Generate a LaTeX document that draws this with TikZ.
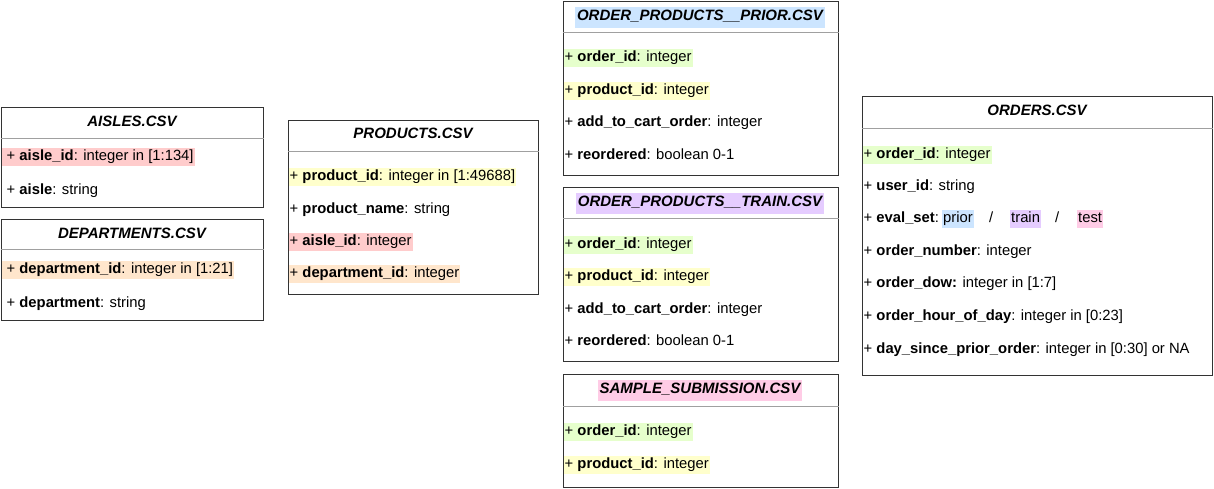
\documentclass[tikz,border=0pt]{standalone}
\usepackage{fontspec}
\setmainfont{Liberation Sans}
\definecolor{hgreen}{HTML}{E6FFCC}
\definecolor{hyellow}{HTML}{FFFFCC}
\definecolor{hred}{HTML}{FFCCCC}
\definecolor{horange}{HTML}{FFE6CC}
\definecolor{hblue}{HTML}{CCE5FF}
\definecolor{hpurple}{HTML}{E5CCFF}
\definecolor{hpink}{HTML}{FFCCE6}
\definecolor{bordergray}{HTML}{333333}
\definecolor{sepgray}{HTML}{A0A0A0}
\tikzset{
  tbl/.style={draw=bordergray, line width=1pt, fill=white, anchor=north west, inner sep=0pt},
  sepline/.style={draw=sepgray, line width=1pt},
  ttl/.style={font=\fontsize{15}{16}\selectfont\bfseries\itshape, inner xsep=2pt, inner ysep=3pt, text height=11pt, text depth=4pt, yshift=-2pt},
  rowtext/.style={font=\fontsize{14.8}{16}\selectfont, anchor=west, inner xsep=1pt, inner ysep=1.5pt, text height=11pt, text depth=4pt, yshift=-2pt},
}
\begin{document}
\begin{tikzpicture}[x=1pt,y=-1pt]
\useasboundingbox[fill=white] (0,0) rectangle (1214,488);

% AISLES
\node[tbl, minimum width=262pt, minimum height=100pt] (aisles) at (1,107) {};
\draw[sepline] (aisles.west |- 0,138) -- (aisles.east |- 0,138);
\node[ttl] (aislesT) at (132,121) {AISLES.CSV};
\node[rowtext, fill=hred] (a1) at (1.5,155) {\hspace{4pt}+ \textbf{aisle\_id}: integer in [1:134]};
\node[rowtext] (a2) at (1.5,189) {\hspace{4pt}+ \textbf{aisle}: string};

% DEPARTMENTS
\node[tbl, minimum width=262pt, minimum height=101pt] (depts) at (1,219) {};
\draw[sepline] (depts.west |- 0,249) -- (depts.east |- 0,249);
\node[ttl] (deptsT) at (132,233) {DEPARTMENTS.CSV};
\node[rowtext, fill=horange] (d1) at (1.5,268) {\hspace{4pt}+ \textbf{department\_id}: integer in [1:21]};
\node[rowtext] (d2) at (1.5,302) {\hspace{4pt}+ \textbf{department}: string};

% PRODUCTS
\node[tbl, minimum width=250pt, minimum height=174pt] (prod) at (288,120) {};
\draw[sepline] (prod.west |- 0,151) -- (prod.east |- 0,151);
\node[ttl] (prodT) at (413,133) {PRODUCTS.CSV};
\node[rowtext, fill=hyellow] (p1) at (288.5,175) {+ \textbf{product\_id}: integer in [1:49688]};
\node[rowtext] (p2) at (288.5,208) {+ \textbf{product\_name}: string};
\node[rowtext, fill=hred] (p3) at (288.5,240) {+ \textbf{aisle\_id}: integer};
\node[rowtext, fill=horange] (p4) at (288.5,272) {+ \textbf{department\_id}: integer};

% ORDER_PRODUCTS__PRIOR
\node[tbl, minimum width=275pt, minimum height=174pt] (prior) at (563,1) {};
\draw[sepline] (prior.west |- 0,32) -- (prior.east |- 0,32);
\node[ttl, fill=hblue] (priorT) at (700,15) {ORDER\_PRODUCTS\_\_PRIOR.CSV};
\node[rowtext, fill=hgreen] (r1) at (563.5,56) {+ \textbf{order\_id}: integer};
\node[rowtext, fill=hyellow] (r2) at (563.5,89) {+ \textbf{product\_id}: integer};
\node[rowtext] (r3) at (563.5,121) {+ \textbf{add\_to\_cart\_order}: integer};
\node[rowtext] (r4) at (563.5,154) {+ \textbf{reordered}: boolean 0-1};

% ORDER_PRODUCTS__TRAIN
\node[tbl, minimum width=275pt, minimum height=174pt] (train) at (563,187) {};
\draw[sepline] (train.west |- 0,218) -- (train.east |- 0,218);
\node[ttl, fill=hpurple] (trainT) at (700,201) {ORDER\_PRODUCTS\_\_TRAIN.CSV};
\node[rowtext, fill=hgreen] (t1) at (563.5,243) {+ \textbf{order\_id}: integer};
\node[rowtext, fill=hyellow] (t2) at (563.5,275) {+ \textbf{product\_id}: integer};
\node[rowtext] (t3) at (563.5,308) {+ \textbf{add\_to\_cart\_order}: integer};
\node[rowtext] (t4) at (563.5,340) {+ \textbf{reordered}: boolean 0-1};

% SAMPLE_SUBMISSION
\node[tbl, minimum width=275pt, minimum height=113pt] (sample) at (563,374) {};
\draw[sepline] (sample.west |- 0,406) -- (sample.east |- 0,406);
\node[ttl, fill=hpink] (sampleT) at (700,388) {SAMPLE\_SUBMISSION.CSV};
\node[rowtext, fill=hgreen] (s1) at (563.5,430) {+ \textbf{order\_id}: integer};
\node[rowtext, fill=hyellow] (s2) at (563.5,463) {+ \textbf{product\_id}: integer};

% ORDERS
\node[tbl, minimum width=350pt, minimum height=279pt] (orders) at (862,96) {};
\draw[sepline] (orders.west |- 0,128) -- (orders.east |- 0,128);
\node[ttl] (ordersT) at (1037,110) {ORDERS.CSV};
\node[rowtext, fill=hgreen] (o1) at (862.5,153) {+ \textbf{order\_id}: integer};
\node[rowtext] (o2) at (862.5,185) {+ \textbf{user\_id}: string};
\node[rowtext] (o3) at (862.5,217) {+ \textbf{eval\_set}:};
\node[rowtext, fill=hblue] (o3a) at (942,217) {prior};
\node[rowtext, inner xsep=0pt] (o3b) at (989,217) {/};
\node[rowtext, fill=hpurple] (o3c) at (1010,217) {train};
\node[rowtext, inner xsep=0pt] (o3d) at (1055,217) {/};
\node[rowtext, fill=hpink] (o3e) at (1077,217) {test};
\node[rowtext] (o4) at (862.5,250) {+ \textbf{order\_number}: integer};
\node[rowtext] (o5) at (862.5,282) {+ \textbf{order\_dow:} integer in [1:7]};
\node[rowtext] (o6) at (862.5,315) {+ \textbf{order\_hour\_of\_day}: integer in [0:23]};
\node[rowtext] (o7) at (862.5,348) {+ \textbf{day\_since\_prior\_order}: integer in [0:30] or NA};
\end{tikzpicture}
\end{document}
